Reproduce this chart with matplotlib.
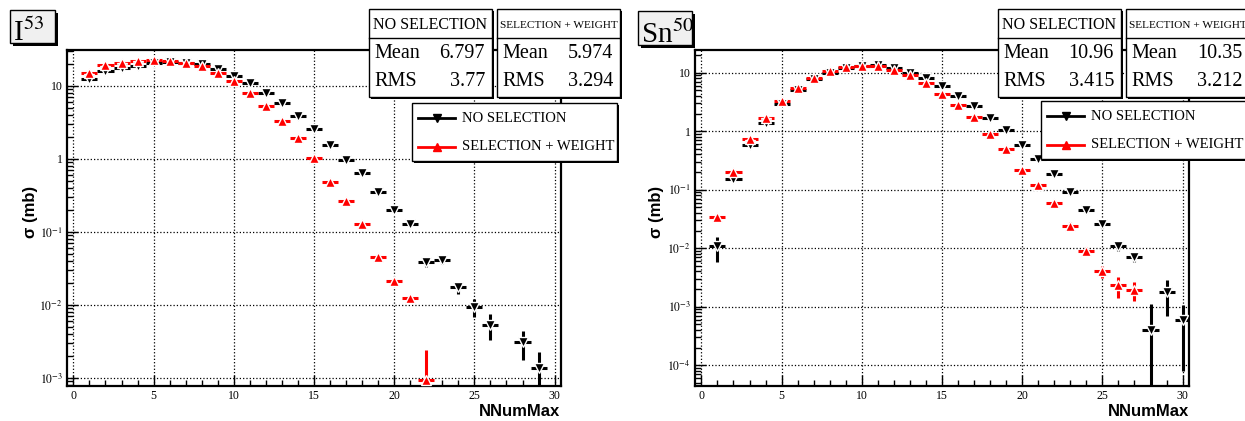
import matplotlib
matplotlib.use("Agg")
import matplotlib.pyplot as plt
import numpy as np
from matplotlib.lines import Line2D
from matplotlib.patches import Rectangle
from matplotlib.ticker import FuncFormatter, LogLocator, MultipleLocator, NullFormatter

plt.rcParams['font.family'] = 'serif'
plt.rcParams['font.serif'] = ['Liberation Serif', 'DejaVu Serif']
plt.rcParams['mathtext.fontset'] = 'stix'

W, H = 1245, 421

# I53 panel
i_nosel_x = list(range(1, 27)) + [28, 29]
i_nosel_y = [12.5, 16.2, 17.5, 19.0, 20.4, 21.1, 20.4, 19.8, 16.9, 13.7, 11.0, 8.1, 5.8, 3.9,
             2.55, 1.56, 0.97, 0.64, 0.356, 0.20, 0.127, 0.039, 0.042, 0.0175, 0.0095, 0.0054,
             0.0031, 0.00138]
i_nosel_err = [0.3, 0.35, 0.35, 0.4, 0.4, 0.4, 0.4, 0.4, 0.35, 0.3, 0.25, 0.2, 0.15, 0.1,
               0.07, 0.05, 0.035, 0.025, 0.015, 0.01, 0.007, 0.006, 0.005, 0.0034, 0.0026,
               0.0021, 0.00135, 0.0009]
i_sel_x = list(range(1, 23))
i_sel_y = [15.2, 19.4, 20.9, 22.2, 22.7, 22.2, 20.9, 18.8, 15.2, 11.5, 8.1, 5.3, 3.35, 1.92,
           1.02, 0.49, 0.266, 0.127, 0.046, 0.0213, 0.0124, 0.00094]
i_sel_err = [0.3, 0.35, 0.35, 0.35, 0.35, 0.35, 0.35, 0.3, 0.3, 0.25, 0.2, 0.15, 0.1, 0.06,
             0.04, 0.025, 0.015, 0.008, 0.004, 0.0025, 0.0015, 0.0015]

# Sn50 panel
sn_nosel_x = list(range(1, 31))
sn_nosel_y = [0.0107, 0.154, 0.577, 1.39, 2.88, 5.07, 7.7, 10.0, 12.2, 13.0, 13.5, 11.9, 10.0,
              8.0, 5.8, 4.05, 2.71, 1.71, 1.04, 0.59, 0.33, 0.186, 0.09, 0.0444, 0.0257,
              0.0107, 0.0070, 0.0004, 0.00176, 0.00058]
sn_nosel_err = [0.0048, 0.015, 0.03, 0.05, 0.07, 0.1, 0.12, 0.14, 0.15, 0.16, 0.16, 0.15, 0.14,
                0.12, 0.1, 0.08, 0.06, 0.045, 0.035, 0.025, 0.018, 0.013, 0.008, 0.005, 0.0035,
                0.0018, 0.0012, 0.0007, 0.00106, 0.0005]
sn_sel_x = list(range(1, 28))
sn_sel_y = [0.034, 0.2, 0.74, 1.69, 3.32, 5.55, 8.2, 10.7, 12.4, 13.0, 13.0, 11.1, 9.0, 6.6,
            4.35, 2.82, 1.74, 0.91, 0.5, 0.214, 0.119, 0.058, 0.0243, 0.0091, 0.0040, 0.0023,
            0.00195]
sn_sel_err = [0.005, 0.02, 0.04, 0.06, 0.09, 0.12, 0.15, 0.17, 0.18, 0.19, 0.19, 0.17, 0.15,
              0.13, 0.1, 0.08, 0.06, 0.04, 0.03, 0.018, 0.013, 0.008, 0.004, 0.0012, 0.0009,
              0.0009, 0.0007]

stats_i = {'NO SELECTION': ('6.797', '3.77'), 'SELECTION + WEIGHT': ('5.974', '3.294')}
stats_sn = {'NO SELECTION': ('10.96', '3.415'), 'SELECTION + WEIGHT': ('10.35', '3.212')}

fig = plt.figure(figsize=(W / 100, H / 100), dpi=100)


def fx(x):
    return x / W


def fy(y):
    return 1 - y / H


def box(x0, y0, x1, y1, face='white', shadow=2, z=3):
    fig.add_artist(Rectangle((fx(x0 + shadow), fy(y1 + shadow)), (x1 - x0) / W, (y1 - y0) / H,
                             facecolor='black', edgecolor='none', transform=fig.transFigure, zorder=z))
    fig.add_artist(Rectangle((fx(x0), fy(y1)), (x1 - x0) / W, (y1 - y0) / H,
                             facecolor=face, edgecolor='black', lw=1, transform=fig.transFigure, zorder=z + 0.1))


def log_fmt(v, pos):
    e = int(round(np.log10(v)))
    if e == 0:
        return '1'
    if e == 1:
        return '10'
    return r'$10^{%d}$' % e


def draw_series(ax, x, y, err, color, marker):
    y = np.array(y)
    err = np.array(err)
    lower = np.minimum(err, y * 0.9999)
    ax.errorbar(x, y, xerr=0.5, yerr=[lower, err], fmt=marker, color=color, ms=6.5,
                mec='white', mew=1.0, mfc=color, elinewidth=2.2, capsize=0, zorder=3)


def panel(left, ylim, nosel, sel):
    ax = fig.add_axes([fx(left), fy(386), 494 / W, 336 / H])
    ax.set_yscale('log')
    draw_series(ax, *nosel, 'black', 'v')
    draw_series(ax, *sel, '#ff0000', '^')
    ax.set_xlim(-0.4, 30.4)
    ax.set_ylim(*ylim)
    ax.xaxis.set_major_locator(MultipleLocator(5))
    ax.xaxis.set_minor_locator(MultipleLocator(1))
    ax.yaxis.set_major_locator(LogLocator(base=10, numticks=20))
    ax.yaxis.set_minor_locator(LogLocator(base=10, subs=np.arange(2, 10), numticks=20))
    ax.yaxis.set_major_formatter(FuncFormatter(log_fmt))
    ax.yaxis.set_minor_formatter(NullFormatter())
    ax.tick_params(which='both', direction='in', top=False, right=False, labelsize=8.5, width=1)
    ax.tick_params(which='major', length=8, pad=3)
    ax.tick_params(which='minor', length=4)
    ax.grid(True, which='major', ls=':', color='black', lw=0.9)
    for s in ax.spines.values():
        s.set_linewidth(1.6)
    return ax


ax1 = panel(67, (7.8e-4, 31), (i_nosel_x, i_nosel_y, i_nosel_err), (i_sel_x, i_sel_y, i_sel_err))
ax2 = panel(695, (4.4e-5, 24.4), (sn_nosel_x, sn_nosel_y, sn_nosel_err),
            (sn_sel_x, sn_sel_y, sn_sel_err))

for ax, lx, rx in [(ax1, 30, 560), (ax2, 656, 1189)]:
    fig.text(fx(lx), fy(212), 'σ (mb)', rotation=90, ha='center', va='center', fontsize=12,
             fontweight='bold', family='Liberation Sans')
    fig.text(fx(rx), fy(412), 'NNumMax', ha='right', va='center', fontsize=12,
             fontweight='bold', family='Liberation Sans')


def stats(x0, x1, header, hsize, mean, rms):
    box(x0, 9, x1, 97)
    fig.add_artist(Line2D([fx(x0), fx(x1)], [fy(38), fy(38)], color='black', lw=1,
                          transform=fig.transFigure, zorder=3.2))
    fig.text(fx((x0 + x1) / 2), fy(25), header, ha='center', va='center', fontsize=hsize, zorder=4)
    fig.text(fx(x0 + 5), fy(54), 'Mean', ha='left', va='center', fontsize=14.5, zorder=4)
    fig.text(fx(x1 - 7), fy(54), mean, ha='right', va='center', fontsize=14.5, zorder=4)
    fig.text(fx(x0 + 5), fy(82), 'RMS', ha='left', va='center', fontsize=14.5, zorder=4)
    fig.text(fx(x1 - 7), fy(82), rms, ha='right', va='center', fontsize=14.5, zorder=4)


def legend(x0, y0, x1, y1):
    box(x0, y0, x1, y1)
    rows = [('NO SELECTION', 'black', 'v', y0 + 15), ('SELECTION + WEIGHT', '#ff0000', '^', y0 + 44)]
    for label, color, marker, y in rows:
        fig.add_artist(Line2D([fx(x0 + 6), fx(x0 + 43)], [fy(y), fy(y)], color=color, lw=2,
                              transform=fig.transFigure, zorder=4))
        fig.add_artist(Line2D([fx(x0 + 24.5)], [fy(y)], color=color, marker=marker, ms=6,
                              transform=fig.transFigure, zorder=4))
        fig.text(fx(x0 + 50), fy(y), label, ha='left', va='center', fontsize=10.5, zorder=4)


def title(x0, y0, x1, y1, txt):
    box(x0, y0, x1, y1, face='#f0f0f0', shadow=3)
    fig.text(fx(x0 + 3), fy(y1 - 2), txt, ha='left', va='baseline', fontsize=21, zorder=4)


title(10, 10, 55, 43, r'I$^{53}$')
title(638, 11, 692, 45, r'Sn$^{50}$')

for (x0, x1, y_leg), st in [((369, 492, 103), stats_i), ((998, 1121, 101), stats_sn)]:
    names = list(st)
    stats(x0, x1, names[0], 11.5, *st[names[0]])
    stats(x1 + 5, x1 + 5 + 123, names[1], 8.1, *st[names[1]])
    legend(x0 + 43, y_leg, x0 + 248, y_leg + 58)

fig.savefig('out.png', dpi=100)
